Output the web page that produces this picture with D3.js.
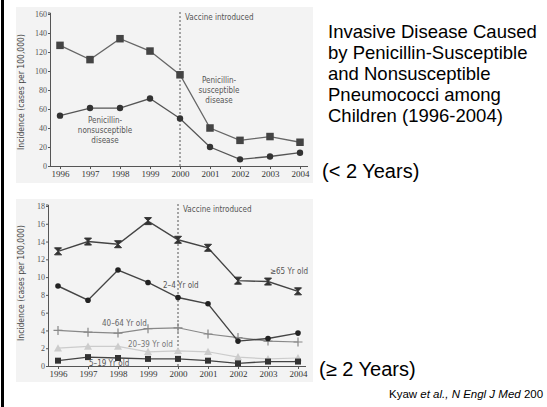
<!DOCTYPE html>
<html>
<head>
<meta charset="utf-8">
<script src="https://cdn.jsdelivr.net/npm/d3@7/dist/d3.min.js"></script>
<style>
  body { margin: 0; background: #fff; }
  svg { display: block; }
</style>
</head>
<body>
<div id="chart"></div>
<script>
const years = [1996, 1997, 1998, 1999, 2000, 2001, 2002, 2003, 2004];

// top panel: children < 2 years
const susceptible = [127, 112, 134, 121, 96, 40, 27, 31, 25];
const nonSusceptible = [53, 61, 61, 71, 50, 20, 7, 10, 14];
const topTicks = [0, 20, 40, 60, 80, 100, 120, 140, 160];

// bottom panel: >= 2 years, by age group
const age65 = [12.9, 14.0, 13.7, 16.3, 14.2, 13.3, 9.6, 9.5, 8.4];
const age2to4 = [9.0, 7.4, 10.8, 9.4, 7.7, 7.0, 2.8, 3.1, 3.7];
const age40to64 = [4.0, 3.8, 3.7, 4.2, 4.3, 3.6, 3.2, 2.8, 2.7];
const age20to39 = [2.0, 2.2, 2.2, 1.6, 1.7, 1.6, 1.0, 0.8, 0.9];
const age5to19 = [0.6, 1.0, 0.9, 0.8, 0.8, 0.6, 0.3, 0.5, 0.5];
const bottomTicks = [0, 2, 4, 6, 8, 10, 12, 14, 16, 18];

const titleLines = ["Invasive Disease Caused", "by Penicillin-Susceptible",
  "and Nonsusceptible", "Pneumococci among", "Children (1996-2004)"];

const W = 547, H = 407;
const svg = d3.select("#chart").append("svg")
  .attr("width", W).attr("height", H);

// black bar on the left edge
svg.append("rect").attr("x", 1).attr("y", 0).attr("width", 3).attr("height", H).attr("fill", "#000");

const tickFont = "'Liberation Serif', serif";
const labelFont = "'DejaVu Sans Condensed', 'DejaVu Sans', sans-serif";
const slideFont = "'Liberation Sans', Arial, sans-serif";

function panel(cfg) {
  const g = svg.append("g");
  g.append("rect")
    .attr("x", 16).attr("y", cfg.bgTop)
    .attr("width", 297).attr("height", cfg.bgBottom - cfg.bgTop)
    .attr("fill", "#f3f3f3");

  const x = d3.scaleLinear().domain([1996, 2004]).range([cfg.x0, cfg.x1]);
  const y = d3.scaleLinear().domain([0, cfg.yMax]).range([cfg.y0, cfg.y1]);

  // y axis
  const ya = g.append("g")
    .attr("transform", `translate(${cfg.axisX},0)`)
    .call(d3.axisLeft(y).tickValues(cfg.ticks).tickSize(3).tickPadding(1));
  ya.select(".domain").attr("stroke", "#555").attr("d", `M-0.5,${cfg.y0}V${cfg.y1 - 1}H-3`);
  ya.selectAll(".tick line").attr("stroke", "#555");
  ya.selectAll("text").attr("font-family", tickFont).attr("font-size", 8).attr("fill", "#555");

  // x axis
  const xa = g.append("g")
    .attr("transform", `translate(0,${cfg.y0})`)
    .call(d3.axisBottom(x).tickValues(years).tickFormat(d3.format("d")).tickSize(3).tickPadding(2));
  xa.select(".domain").attr("stroke", "#555").attr("d", `M${cfg.axisX},0.5H${cfg.x1 + 8}`);
  xa.selectAll(".tick line").attr("stroke", "#555");
  xa.selectAll("text").attr("font-family", tickFont).attr("font-size", 9).attr("fill", "#333");

  // y axis title
  g.append("text")
    .attr("transform", `translate(24,${cfg.titleY}) rotate(-90)`)
    .attr("text-anchor", "middle")
    .attr("font-family", labelFont).attr("font-size", 8.5).attr("fill", "#444")
    .text("Incidence (cases per 100,000)");

  // vaccine line
  g.append("line")
    .attr("x1", x(2000)).attr("x2", x(2000))
    .attr("y1", cfg.y1 - 2).attr("y2", cfg.y0)
    .attr("stroke", "#555").attr("stroke-width", 1).attr("stroke-dasharray", "2,2");
  g.append("text")
    .attr("x", x(2000) + 5).attr("y", cfg.y1 + 6)
    .attr("font-family", labelFont).attr("font-size", 8).attr("fill", "#555")
    .text("Vaccine introduced");

  return { g, x, y };
}

function drawSeries(p, values, lineColor, lineWidth, marker) {
  const pts = years.map((yr, i) => ({ yr, v: values[i] }));
  const line = d3.line().x(d => p.x(d.yr)).y(d => p.y(d.v));
  p.g.append("path").datum(pts)
    .attr("fill", "none").attr("stroke", lineColor).attr("stroke-width", lineWidth)
    .attr("d", line);
  const m = p.g.append("g");
  pts.forEach(d => marker(m, p.x(d.yr), p.y(d.v)));
}

const square = (size, color) => (g, cx, cy) =>
  g.append("rect").attr("x", cx - size / 2).attr("y", cy - size / 2)
    .attr("width", size).attr("height", size).attr("fill", color);
const dot = (r, color) => (g, cx, cy) =>
  g.append("circle").attr("cx", cx).attr("cy", cy).attr("r", r).attr("fill", color);
const plus = (s, color) => (g, cx, cy) =>
  g.append("path").attr("d", `M${cx - s},${cy}H${cx + s}M${cx},${cy - s}V${cy + s}`)
    .attr("stroke", color).attr("stroke-width", 1.2);
const triangle = (s, color) => (g, cx, cy) =>
  g.append("path").attr("d", `M${cx},${cy - s}L${cx + s},${cy + s * 0.8}L${cx - s},${cy + s * 0.8}Z`)
    .attr("fill", color);
const hourglass = (s, color) => (g, cx, cy) =>
  g.append("path").attr("d", `M${cx - s},${cy - s}H${cx + s}L${cx - s},${cy + s}H${cx + s}Z`)
    .attr("fill", color).attr("stroke", color).attr("stroke-width", 1);

// ---------- top panel ----------
const topPanel = panel({
  bgTop: 7, bgBottom: 183, x0: 60, x1: 300, y0: 166, y1: 14, yMax: 160,
  axisX: 51, ticks: topTicks, titleY: 92
});
drawSeries(topPanel, susceptible, "#666", 1.3, square(7.5, "#444"));
drawSeries(topPanel, nonSusceptible, "#555", 1.3, dot(3.2, "#333"));

function multiLabel(g, lines, cx, y0, dy) {
  const t = g.append("text")
    .attr("text-anchor", "middle")
    .attr("font-family", labelFont).attr("font-size", 8).attr("fill", "#555");
  lines.forEach((s, i) => t.append("tspan").attr("x", cx).attr("y", y0 + i * dy).text(s));
}
multiLabel(topPanel.g, ["Penicillin-", "susceptible", "disease"], 219, 83, 10);
multiLabel(topPanel.g, ["Penicillin-", "nonsusceptible", "disease"], 105, 123, 10);

// ---------- bottom panel ----------
const botPanel = panel({
  bgTop: 199, bgBottom: 382, x0: 58, x1: 298, y0: 366, y1: 206, yMax: 18,
  axisX: 49, ticks: bottomTicks, titleY: 283
});
drawSeries(botPanel, age20to39, "#ccc", 1.2, triangle(4, "#ccc"));
drawSeries(botPanel, age40to64, "#888", 1.2, plus(4.5, "#888"));
drawSeries(botPanel, age5to19, "#444", 1.3, square(6, "#333"));
drawSeries(botPanel, age2to4, "#444", 1.4, dot(2.8, "#222"));
drawSeries(botPanel, age65, "#444", 1.4, hourglass(3.5, "#333"));

const ageLabels = [
  { text: "\u226565 Yr old", x: 270, y: 274, color: "#555" },
  { text: "2\u20134 Yr old", x: 163, y: 288, color: "#555" },
  { text: "40\u201364 Yr old", x: 102, y: 326, color: "#666" },
  { text: "20\u201339 Yr old", x: 128, y: 347, color: "#777" },
  { text: "5\u201319 Yr old", x: 89, y: 366, color: "#555" }
];
ageLabels.forEach(l => botPanel.g.append("text")
  .attr("x", l.x).attr("y", l.y)
  .attr("font-family", labelFont).attr("font-size", 8).attr("fill", l.color)
  .text(l.text));

// ---------- slide text ----------
const ttl = svg.append("text")
  .attr("font-family", slideFont)
  .attr("font-size", 18.5).attr("fill", "#000");
titleLines.forEach((s, i) => ttl.append("tspan").attr("x", 328).attr("y", 38 + i * 21).text(s));

svg.append("text").attr("x", 322).attr("y", 178)
  .attr("font-family", slideFont).attr("font-size", 20)
  .text("(< 2 Years)");
svg.append("text").attr("x", 319).attr("y", 376)
  .attr("font-family", slideFont).attr("font-size", 20)
  .text("(\u2265 2 Years)");

const cite = svg.append("text").attr("x", 389).attr("y", 398)
  .attr("font-family", slideFont).attr("font-size", 11.5);
cite.append("tspan").text("Kyaw ");
cite.append("tspan").attr("font-style", "italic").text("et al., N Engl J Med");
cite.append("tspan").text(" 200");
</script>
</body>
</html>
